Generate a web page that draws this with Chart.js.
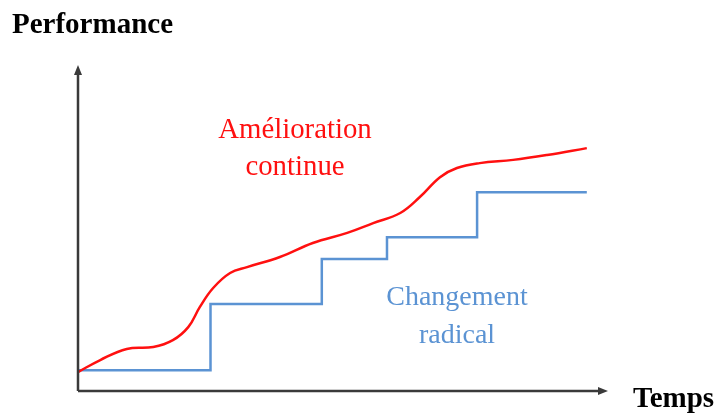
<!DOCTYPE html>
<html>
<head>
<meta charset="utf-8">
<script src="https://cdn.jsdelivr.net/npm/chart.js@4"></script>
<style>
  html, body { margin: 0; padding: 0; background: #fff; }
  canvas { display: block; }
</style>
</head>
<body>
<canvas id="chart" width="718" height="414"></canvas>
<script>
// time (0-100) and performance (0-100)
const continueTime = [0, 4.2, 9.2, 14.2, 17.9, 20.8, 23.0, 25.5, 28.7, 31.9, 38.1, 44.3, 50.8, 55.7, 60.8, 64.5, 68.3, 71.5, 75.8, 82.1, 88.5, 96.0];
const continuePerf = [5.8, 9.5, 12.9, 13.5, 15.6, 19.6, 25.8, 31.6, 36.2, 38.0, 41.1, 45.4, 48.5, 51.5, 54.6, 59.5, 65.6, 68.4, 69.9, 70.9, 72.4, 74.5];

const radicalTime = [0, 25, 46, 58.3, 75.3, 96];
const radicalPerf = [6.4, 26.7, 40.5, 47.2, 61, 61];

const labels = {
    yAxis: "Performance",
    xAxis: "Temps",
    red: ["Amélioration", "continue"],
    blue: ["Changement", "radical"]
};

const RED = "#ff1010";
const BLUE = "#5b93d3";
const AXIS = "#3a3a3a";

const toPoints = (xs, ys) => xs.map((x, i) => ({ x: x, y: ys[i] }));

const decor = {
    id: "decor",
    afterDraw(chart) {
        const ctx = chart.ctx;
        const a = chart.chartArea;
        ctx.save();
        // axes with arrows
        ctx.strokeStyle = AXIS;
        ctx.fillStyle = AXIS;
        ctx.lineWidth = 2.5;
        ctx.beginPath();
        ctx.moveTo(a.left, a.bottom);
        ctx.lineTo(a.left, a.top + 6);
        ctx.moveTo(a.left, a.bottom);
        ctx.lineTo(a.right - 6, a.bottom);
        ctx.stroke();
        ctx.beginPath();
        ctx.moveTo(a.left, a.top);
        ctx.lineTo(a.left - 4, a.top + 10);
        ctx.lineTo(a.left + 4, a.top + 10);
        ctx.closePath();
        ctx.fill();
        ctx.beginPath();
        ctx.moveTo(a.right, a.bottom);
        ctx.lineTo(a.right - 10, a.bottom - 4);
        ctx.lineTo(a.right - 10, a.bottom + 4);
        ctx.closePath();
        ctx.fill();

        // texts
        ctx.textBaseline = "alphabetic";
        ctx.fillStyle = "#000";
        ctx.font = "bold 29px 'Liberation Serif', serif";
        ctx.textAlign = "left";
        ctx.fillText(labels.yAxis, 12, 33);
        ctx.fillText(labels.xAxis, 633, 407);

        ctx.font = "28.8px 'Liberation Serif', serif";
        ctx.textAlign = "center";
        ctx.fillStyle = RED;
        ctx.fillText(labels.red[0], 295, 138);
        ctx.fillText(labels.red[1], 295, 175);
        ctx.font = "28px 'Liberation Serif', serif";
        ctx.fillStyle = BLUE;
        ctx.fillText(labels.blue[0], 457, 305);
        ctx.fillText(labels.blue[1], 457, 343);
        ctx.restore();
    }
};

new Chart(document.getElementById("chart"), {
    type: "line",
    data: {
        datasets: [
            {
                data: toPoints(continueTime, continuePerf),
                borderColor: RED,
                borderWidth: 2.5,
                pointRadius: 0,
                tension: 0.4,
                fill: false
            },
            {
                data: toPoints(radicalTime, radicalPerf),
                borderColor: BLUE,
                borderWidth: 2.5,
                pointRadius: 0,
                stepped: "before",
                fill: false
            }
        ]
    },
    options: {
        responsive: false,
        animation: false,
        layout: { padding: { left: 78, right: 110, top: 65, bottom: 23 } },
        plugins: { legend: { display: false }, tooltip: { enabled: false } },
        scales: {
            x: {
                type: "linear", min: 0, max: 100,
                display: false
            },
            y: {
                min: 0, max: 100,
                display: false
            }
        }
    },
    plugins: [decor]
});
</script>
</body>
</html>
